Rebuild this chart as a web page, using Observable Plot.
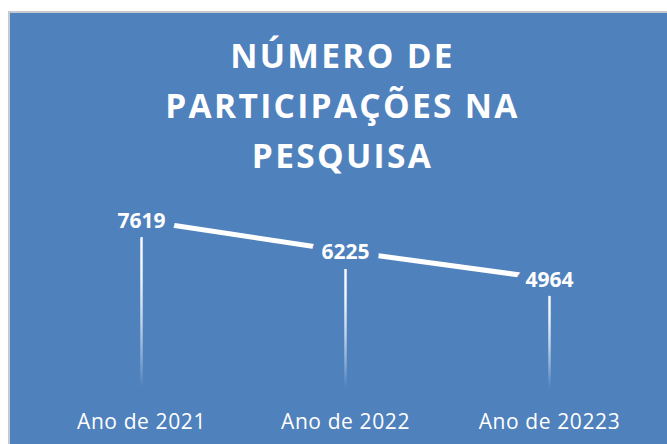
<!DOCTYPE html>
<html>
<head>
<meta charset="utf-8">
<script src="https://cdn.jsdelivr.net/npm/d3@7"></script>
<script src="https://cdn.jsdelivr.net/npm/@observablehq/plot@0.6"></script>
<style>
  html, body { margin: 0; padding: 0; background: #ffffff; width: 667px; height: 444px; overflow: hidden; }
  #frame { position: absolute; left: 8px; top: 11px; width: 670px; height: 440px; box-sizing: border-box;
           background: #4F81BD; border-left: 2px solid #c6c9cf; border-top: 2px solid #c6c9cf; }
  #title { position: absolute; left: 9px; top: 30px; width: 667px; text-align: center; color: #ffffff;
           font-family: "Open Sans", sans-serif; font-weight: 700; font-size: 33.5px; line-height: 50px;
           letter-spacing: 2.3px; z-index: 2; }
  #chart { position: absolute; left: 0; top: 0; z-index: 1; }
  #chart g[aria-label^="x-axis"] text { letter-spacing: 0.6px; }
</style>
</head>
<body>
<div id="frame"></div>
<div id="title">NÚMERO DE<br>PARTICIPAÇÕES NA<br>PESQUISA</div>
<div id="chart"></div>
<script>
const years = ["Ano de 2021", "Ano de 2022", "Ano de 20223"];
const participations = [7619, 6225, 4964];
const yDomain = [0, 9000];

const data = years.map((year, i) => ({year, value: participations[i]}));
const BG = "#4F81BD";
const svgNS = "http://www.w3.org/2000/svg";

const W = 667, H = 444, MT = 189.6, MB = 56.1;

function dropGradients(index, scales) {
  const yf = (scales && typeof scales.y === "function")
    ? scales.y
    : (v => MT + (1 - v / yDomain[1]) * (H - MT - MB));
  const defs = document.createElementNS(svgNS, "defs");
  participations.forEach((v, i) => {
    const g = document.createElementNS(svgNS, "linearGradient");
    g.setAttribute("id", "drop" + i);
    g.setAttribute("gradientUnits", "userSpaceOnUse");
    g.setAttribute("x1", 0); g.setAttribute("x2", 0);
    g.setAttribute("y1", yf(v)); g.setAttribute("y2", yf(0));
    [[0, 1], [0.35, 0.9], [0.6, 0.65], [0.8, 0.35], [1, 0]].forEach(([o, a]) => {
      const s = document.createElementNS(svgNS, "stop");
      s.setAttribute("offset", o);
      s.setAttribute("stop-color", "#ffffff");
      s.setAttribute("stop-opacity", a);
      g.appendChild(s);
    });
    defs.appendChild(g);
  });
  return defs;
}

const chart = Plot.plot({
  width: W,
  height: H,
  marginLeft: 39,
  marginRight: 15.5,
  marginTop: MT,
  marginBottom: MB,
  x: {type: "point", domain: years, padding: 0.5, tickSize: 0, tickPadding: 26, label: null},
  y: {domain: yDomain, axis: null},
  style: {background: "transparent", color: "#ffffff", fontFamily: "'Open Sans', sans-serif", fontSize: "21px", overflow: "visible"},
  marks: [
    dropGradients,
    ...data.map((d, i) => Plot.ruleX([d], {x: "year", y1: 0, y2: "value", stroke: `url(#drop${i})`, strokeWidth: 2.5})),
    Plot.line(data, {x: "year", y: "value", stroke: "#ffffff", strokeWidth: 5}),
    Plot.text(data, {x: "year", y: "value", text: d => String(d.value), fill: BG, stroke: BG, strokeWidth: 20, strokeLinejoin: "round", fontSize: 21, fontWeight: "bold", dy: 1}),
    Plot.text(data, {x: "year", y: "value", text: d => String(d.value), fill: "#ffffff", fontSize: 21, fontWeight: "bold", dy: 1})
  ]
});
document.getElementById("chart").appendChild(chart);
</script>
</body>
</html>
